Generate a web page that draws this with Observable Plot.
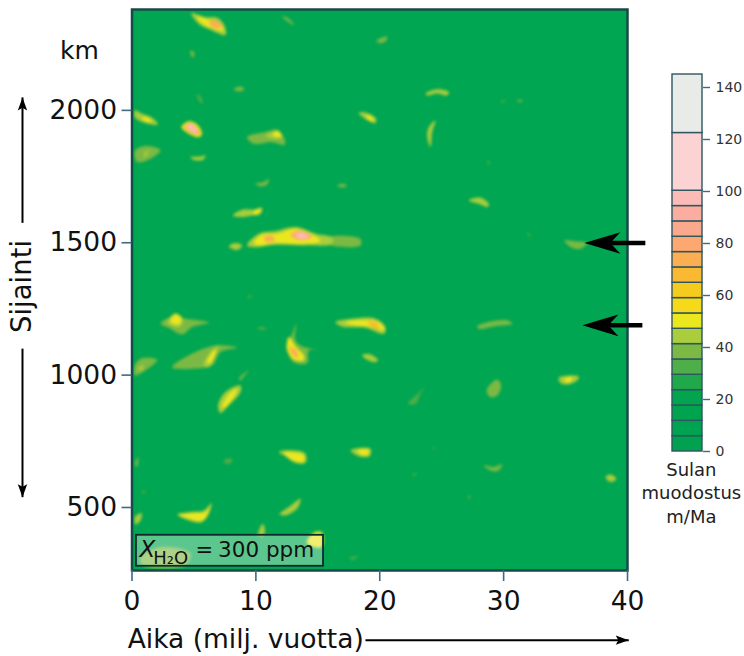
<!DOCTYPE html>
<html>
<head>
<meta charset="utf-8">
<script src="https://cdn.jsdelivr.net/npm/d3@7"></script>
<script src="https://cdn.jsdelivr.net/npm/@observablehq/plot@0.6"></script>
<style>
  html, body { margin: 0; padding: 0; background: #fff; }
  #chart { position: relative; width: 744px; height: 656px; overflow: hidden; }
  #chart svg { position: absolute; left: 0; top: 0; background: transparent; }
</style>
</head>
<body>
<div id="chart"></div>
<script>
// Legend bands (m/Ma) and their colours
const bandEdges = [0, 5.9, 11.8, 17.7, 23.6, 29.5, 35.4, 41.3, 47.2, 53.1, 59, 64.9, 70.8, 76.7, 82.6, 88.5, 94.4, 100.3, 122.5, 145];
const bandColors = ["#00a24f", "#00a34f", "#00a44f", "#02a54e", "#1fa94b", "#4eae47", "#7cb944", "#a9cd3c", "#ebe71f", "#f6d918", "#f5cb1e", "#fbb832", "#fbae52", "#fda870", "#fba98c", "#fbaea0", "#fbbcb8", "#fcd3d3", "#e9ebe9"];
const legendTicks = [0, 20, 40, 60, 80, 100, 120, 140];
const xTicks = [0, 10, 20, 30, 40];
const yTicks = [500, 1000, 1500, 2000];

// Melt patches: [melting rate, time values (Ma), position values (km)]
const upperPatches = [
  [44, [4.78,5.93,6.87,7.46,7.55,6.47,5.45], [2367,2352,2350,2321,2285,2302,2324]],
  [50, [5.26,6.2,7.14,7.36,6.33,5.53], [2355,2342,2327,2302,2312,2333]],
  [72, [6.2,6.87,7.28,6.6], [2333,2337,2317,2312]],
  [50, [3.99,4.59,5.26,5.66,5.39,4.59], [1937,1959,1947,1912,1899,1912]],
  [74, [4.21,4.64,5.18,5.5,5.18,4.59], [1937,1952,1939,1912,1907,1919]],
  [98, [4.37,4.86,5.26,5.26,4.8], [1939,1947,1924,1912,1922]],
  [44, [.23,.82,1.63,2.08,1.09,.23], [2000,1987,1972,1947,1952,1974]],
  [50, [.82,1.36,1.57,.95], [1974,1971,1956,1962]],
  [38, [.23,1.09,2.3,1.49,.42], [1846,1865,1849,1817,1805]],
  [44, [.95,1.36,1.09], [1836,1849,1823]],
  [44, [4.72,5.53,5.93,5.72,4.99], [1823,1826,1830,1813,1813]],
  [38, [9.29,10.77,11.72,12.25,12.33,11.31,9.83], [1899,1918,1927,1899,1871,1880,1874]],
  [46, [10.77,11.58,12.12,11.45], [1905,1920,1899,1893]],
  [50, [11.37,11.8,12.07,11.58], [1914,1922,1901,1899]],
  [44, [18.3,18.98,19.71,19.65,18.98], [1990,1990,1968,1952,1964]],
  [50, [18.98,19.52,19.38,18.9], [1981,1968,1959,1972]],
  [38, [8.22,8.76,9.08,8.62], [2081,2090,2081,2071]],
  [38, [9.97,10.64,11.04,10.91,10.37], [1723,1729,1742,1720,1713]],
  [36, [16.56,16.96,17.37,16.96], [1716,1723,1716,1708]],
  [44, [8.14,8.89,9.83,10.5,10.37,9.7,8.76], [1603,1625,1625,1632,1609,1603,1597]],
  [50, [9.83,10.37,10.29,9.83], [1620,1628,1612,1607]],
  [36, [12.12,12.66,13.11,12.66], [2355,2346,2321,2333]],
  [36, [4.72,4.99,4.99,4.77], [2226,2220,2199,2207]],
  [34, [5.26,5.61,5.72,5.39], [2063,2047,2025,2037]],
  [40, [19.71,20.33,20.6,20.5,20.1], [2261,2277,2279,2262,2254]],
  [42, [23.69,24.63,25.58,25.44,24.63,23.83], [2063,2080,2069,2056,2065,2056]],
  [42, [24.5,24.23,24.1,23.83,23.96], [1962,1918,1861,1899,1937]],
  [34, [29.75,30.15,29.93], [2037,2037,2029]],
  [34, [31.04,31.57,31.3], [2040,2040,2027]],
  [32, [28.67,28.88,28.8], [1811,1805,1792]],
  [44, [27.19,28.13,28.8,28.72,28], [1660,1670,1647,1635,1647]]
];
const middlePatches = [
  [44, [7.81,8.35,8.89,8.49], [1486,1499,1490,1473]],
  [44, [9.29,10.24,11.58,13.2,14.81,16.16,16.16,14,11.58,9.97], [1490,1534,1544,1559,1534,1519,1496,1490,1492,1483]],
  [36, [15.8,18.44,18.44,15.8], [1519,1514,1490,1496]],
  [50, [9.83,10.5,11.72,13.2,14.68,15.21,13.73,11.58,10.24], [1499,1531,1534,1553,1528,1506,1496,1499,1490]],
  [72, [10.64,11.18,11.58,10.91], [1519,1528,1511,1502]],
  [82, [12.79,13.46,14.54,13.73], [1528,1546,1524,1509]],
  [98, [13.2,13.6,14.27,13.6], [1530,1538,1524,1515]],
  [40, [34.91,35.66,36.74,36.2,35.4], [1509,1506,1499,1477,1484]],
  [32, [31.9,32.2,32.03], [1538,1528,1524]],
  [38, [2.3,3.11,4.32,6.2,4.86,4.05,2.97], [1194,1219,1213,1198,1182,1154,1179]],
  [44, [2.84,3.51,4.1,3.91,3.11], [1200,1234,1213,1184,1188]],
  [50, [3.11,3.51,4,3.78,3.3], [1207,1229,1213,1192,1194]],
  [34, [10.1,10.5,10.9,10.37], [1179,1182,1175,1171]],
  [34, [9.3,9.7,9.5], [1297,1301,1291]],
  [44, [16.42,17.77,19.65,20.46,20.33,18.85,16.96], [1200,1213,1213,1182,1156,1179,1184]],
  [50, [17.23,18.85,19.92,20.4,19.25,18.04], [1200,1207,1200,1169,1182,1188]],
  [70, [18.98,19.79,19.92,19.38], [1200,1197,1175,1184]],
  [38, [13.25,12.93,12.66,12.44,13.06,14.14,14.27,15.03,13.87,13.2], [1194,1156,1131,1106,1049,1046,1093,1096,1106,1131]],
  [50, [12.66,13.25,13.87,13.87,13.06,12.52], [1144,1106,1075,1056,1058,1100]],
  [76, [12.71,13.2,13.46,13.06], [1106,1096,1068,1071]],
  [44, [18.58,19.25,19.87,19.65,18.98], [1075,1078,1056,1049,1058]],
  [38, [.23,.69,2.03,1.09,.23], [1037,1062,1058,1018,999]],
  [46, [.42,.95,.82], [1024,1037,1018]],
  [38, [3.24,4.59,6.74,8.49,7.14,6.47,4.86], [1030,1075,1112,1103,1087,1037,1024]],
  [46, [5.8,6.33,7,6.74,6.2], [1037,1087,1112,1075,1030]],
  [50, [6.07,6.6,6.79,6.33], [1049,1093,1093,1046]],
  [38, [8.62,9.43,9.03,8.76], [986,1018,995,980]],
  [38, [27.86,28.67,30.28,30.69,29.21,28], [1184,1200,1207,1194,1184,1175]]
];
const lowerPatches = [
  [44, [6.95,7.55,8.76,8.76,7.81,7.14], [886,936,961,936,886,857]],
  [50, [7.28,7.81,8.49,8.22,7.55], [879,927,949,917,879]],
  [44, [11.85,12.93,14,14,13.2,12.39], [710,716,703,669,669,694]],
  [50, [12.25,13.2,13.87,13.87,13.06], [707,707,697,674,676]],
  [44, [17.63,19.25,19.17,18.31], [716,722,694,694]],
  [50, [18.17,19.11,19.06,18.44], [716,718,699,701]],
  [34, [7.41,8.03,8.08,7.55], [678,684,672,665]],
  [40, [.23,.5,.42], [665,691,653]],
  [44, [3.65,4.72,5.8,6.42,6.2,5.66,4.59], [474,483,489,517,477,445,451]],
  [50, [3.78,4.86,5.93,6.28,6.07,5.53,4.59], [470,479,483,504,470,449,458]],
  [44, [11.9,12.66,13.6,13.33,12.39], [474,502,533,496,470]],
  [46, [.23,.77,.69,.28], [464,479,451,436]],
  [44, [10.18,10.56,10.72,10.64,10.18], [404,439,420,395,395]],
  [50, [14.1,14.68,15.35,15.35,14.6], [368,405,405,352,352]],
  [38, [.69,2.43,4.72,4.32,.82], [313,351,326,282,282]],
  [34, [17.5,18.2,17.9], [307,316,303]],
  [34, [.82,1.14,.87], [559,565,550]],
  [34, [22.27,22.9,23.69,23.29,22.9], [892,923,955,930,892]],
  [40, [28.62,29.48,29.8,29.48,28.94], [942,983,961,923,917]],
  [44, [34.45,36.07,35.93,35.13,34.59], [990,995,980,965,970]],
  [50, [34.91,35.53,35.4,34.99], [986,993,974,974]],
  [40, [28.4,29.21,29.88,29.61,29.07], [659,653,663,640,638]],
  [42, [38.22,38.62,39.11,38.62], [615,625,609,596]],
  [34, [22.62,22.97,22.8], [628,628,618]],
  [32, [27.05,27.38,27.22], [542,542,532]],
  [28, [24.23,24.63,24.36], [728,731,716]]
];

// Arrows, in chart units
const marginArrows = [
  {x1: 41.44, y1: 1499, x2: 37.5, y2: 1499, xTip: 36.52, yTip: 1499},
  {x1: 41.2, y1: 1188, x2: 37.3, y2: 1188, xTip: 36.36, yTip: 1188}
];
const positionArrowUp = {x1: -8.84, y1: 1575, x2: -8.84, y2: 2049};
const positionArrowDown = {x1: -8.84, y1: 1100, x2: -8.84, y2: 539};
const timeArrow = {x1: 18.85, y1: -1, x2: 40.1, y2: -1};

const boxText = {x1: 0.36, x2: 15.46, y1: 278, y2: 395};
const textFamily = "'DejaVu Sans', Verdana, sans-serif";

// Build a table of outline vertices, low rates first so high rates paint on top
const patchRows = [...upperPatches, ...middlePatches, ...lowerPatches]
  .map((p, i) => ({rate: p[0], xs: p[1], ys: p[2], id: i}))
  .sort((a, b) => a.rate - b.rate)
  .flatMap(p => p.xs.map((x, k) => ({x, y: p.ys[k], rate: p.rate, id: p.id})));

const colorScale = {type: "threshold", domain: bandEdges.slice(1, -1), range: bandColors};

// Notched arrow head with its tip at the anchor; (ux, uy) points from tip to back
const head = (ux, uy, spread, notch) => ({
  draw(ctx, size) {
    const r = Math.sqrt(size / Math.PI);
    const px = -uy, py = ux;
    ctx.moveTo(0, 0);
    ctx.lineTo(ux * r + px * r * spread, uy * r + py * r * spread);
    ctx.lineTo(ux * r * notch, uy * r * notch);
    ctx.lineTo(ux * r - px * r * spread, uy * r - py * r * spread);
    ctx.closePath();
  }
});

const main = Plot.plot({
  width: 744,
  height: 656,
  marginLeft: 131.5,
  marginRight: 117,
  marginTop: 9,
  marginBottom: 86,
  style: {fontFamily: textFamily, background: "transparent", overflow: "visible"},
  x: {domain: [0, 40]},
  y: {domain: [262, 2381]},
  color: colorScale,
  marks: [
    Plot.frame({fill: "#00a651", stroke: "none"}),
    Plot.line(patchRows, {
      x: "x", y: "y", z: "id", fill: "rate", stroke: "none",
      curve: "catmull-rom-closed", clip: true, imageFilter: "blur(1.7px)"
    }),
    Plot.frame({stroke: "#17494a", strokeWidth: 2.5}),
    Plot.rect([boxText], {x1: "x1", x2: "x2", y1: "y1", y2: "y2", fill: "#ffffff", fillOpacity: 0.36}),
    Plot.rect([boxText], {x1: "x1", x2: "x2", y1: "y1", y2: "y2", fill: "none", stroke: "#10282a", strokeWidth: 1.8}),
    Plot.text(["X"], {x: [0.6], y: [339], textAnchor: "start", fontSize: 23, fontStyle: "italic", fill: "#111"}),
    Plot.text(["H₂O"], {x: [1.72], y: [310], textAnchor: "start", fontSize: 18, fill: "#111"}),
    Plot.text(["="], {x: [5.12], y: [339], textAnchor: "start", fontSize: 21, fill: "#111"}),
    Plot.text(["300 ppm"], {x: [6.95], y: [339], textAnchor: "start", fontSize: 21.5, fill: "#111"}),
    Plot.axisX({ticks: xTicks, tickSize: 11, tickPadding: 10, fontSize: 26.5, stroke: "#3f6a80", strokeWidth: 1.6, fill: "#111", label: null, tickFormat: d => String(d)}),
    Plot.axisY({ticks: yTicks, tickSize: 10, tickPadding: 5, fontSize: 26.5, stroke: "#3f6a80", strokeWidth: 1.6, fill: "#111", label: null, tickFormat: d => String(d)}),
    Plot.text(["km"], {x: [-4.25], y: [2225], fontSize: 25, fill: "#111"}),
    Plot.text(["Sijainti"], {x: [-8.84], y: [1335], rotate: -90, fontSize: 27.5, fill: "#111"}),
    Plot.text(["Aika (milj. vuotta)"], {x: [-0.35], y: [3], textAnchor: "start", fontSize: 26.5, fill: "#111"}),
    Plot.link(marginArrows, {x1: "x1", y1: "y1", x2: "x2", y2: "y2", stroke: "#000", strokeWidth: 4.5}),
    Plot.dot(marginArrows, {x: "xTip", y: "yTip", r: 36, fill: "#000", stroke: "none", symbol: head(1, 0, 0.3, 0.72)}),
    Plot.link([positionArrowUp, positionArrowDown, timeArrow], {x1: "x1", y1: "y1", x2: "x2", y2: "y2", stroke: "#000", strokeWidth: 2}),
    Plot.dot([positionArrowUp], {x: "x2", y: "y2", r: 13, fill: "#000", stroke: "none", symbol: head(0, 1, 0.36, 0.8)}),
    Plot.dot([positionArrowDown], {x: "x2", y: "y2", r: 13, fill: "#000", stroke: "none", symbol: head(0, -1, 0.36, 0.8)}),
    Plot.dot([timeArrow], {x: "x2", y: "y2", r: 13, fill: "#000", stroke: "none", symbol: head(-1, 0, 0.36, 0.8)})
  ]
});

const bandRows = bandColors.map((c, i) => ({lo: bandEdges[i], hi: bandEdges[i + 1], mid: (bandEdges[i] + bandEdges[i + 1]) / 2}));

const legend = Plot.plot({
  width: 744,
  height: 656,
  marginLeft: 672,
  marginRight: 42,
  marginTop: 74,
  marginBottom: 205,
  style: {fontFamily: textFamily, background: "transparent", overflow: "visible"},
  x: {domain: [0, 1], axis: null},
  y: {domain: [0, 145]},
  color: colorScale,
  marks: [
    Plot.rect(bandRows, {x1: 0, x2: 1, y1: "lo", y2: "hi", fill: "mid", stroke: "#2f5560", strokeWidth: 1.4}),
    Plot.axisY({anchor: "right", ticks: legendTicks, tickSize: 7, tickPadding: 6, fontSize: 14, stroke: "#3f6a80", strokeWidth: 1.4, fill: "#333", label: null, tickFormat: d => String(d)}),
    Plot.text(["Sulan\nmuodostus\nm/Ma"], {x: [0.63], y: [-15.5], fontSize: 18, lineHeight: 1.3, fill: "#222"})
  ]
});

const host = document.getElementById("chart");
host.append(main, legend);
</script>
</body>
</html>
